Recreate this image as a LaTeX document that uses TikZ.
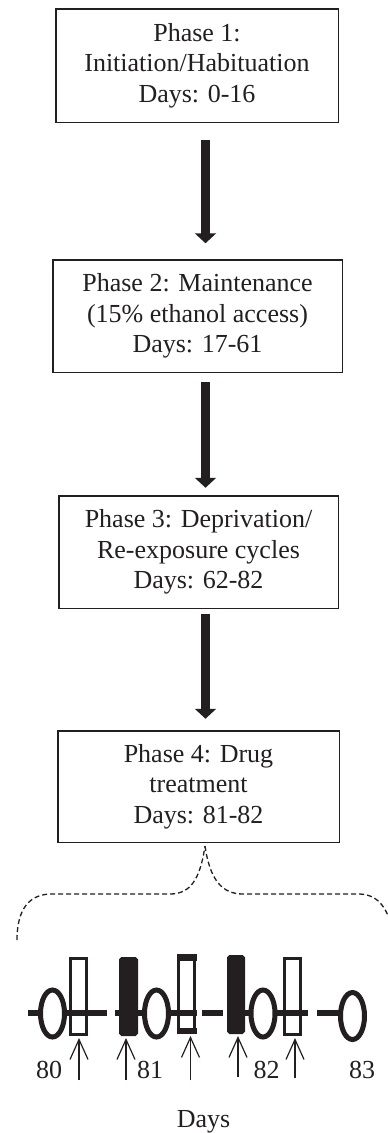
\documentclass[tikz,border=0pt]{standalone}
\usepackage{fontspec}
\setmainfont{Liberation Serif}
\usetikzlibrary{arrows.meta,shapes.geometric}
\definecolor{ink}{HTML}{231F20}
\begin{document}
\begin{tikzpicture}[x=1pt,y=-1pt,
  phasebox/.style={draw=ink, line width=1.5pt, fill=white, align=center,
    inner sep=0pt, outer sep=0pt, text=ink, font=\fontsize{26}{30.5}\selectfont},
  bigarrow/.style={draw=ink, line width=9pt, -{Triangle[width=21pt,length=10pt]}},
  bracedash/.style={draw=ink, line width=1.3pt, dash pattern=on 5pt off 3pt},
  tline/.style={draw=ink, line width=6pt},
  ell/.style={ellipse, draw=ink, line width=5pt, fill=white, inner sep=0pt,
    outer sep=0pt, minimum width=24pt, minimum height=47pt},
  openrect/.style={rectangle, draw=ink, line width=3pt, inner sep=0pt, outer sep=0pt,
    minimum width=16pt, minimum height=76pt},
  fullrect/.style={openrect, fill=ink, rounded corners=1.5pt},
  uparrow/.style={draw=ink, line width=1.2pt, -{Straight Barb[length=20pt,width=18pt]}, shorten >=3.5pt},
  lab/.style={anchor=base, inner sep=0pt, text=ink, font=\fontsize{26}{30}\selectfont}
]
\useasboundingbox (0,0) rectangle (388,1133);

% phase boxes
\node[phasebox, minimum width=282.5pt, minimum height=113.5pt] (b1) at (197,65.5)
  {Phase 1:\\Initiation/Habituation\\Days: 0-16};
\node[phasebox, minimum width=289.5pt, minimum height=112.5pt] (b2) at (197.5,316)
  {Phase 2: Maintenance\\(15\% ethanol access)\\Days: 17-61};
\node[phasebox, minimum width=279.5pt, minimum height=112.5pt] (b3) at (198.5,552)
  {Phase 3: Deprivation/\\Re-exposure cycles\\Days: 62-82};
\node[phasebox, minimum width=281.5pt, minimum height=111.5pt] (b4) at (198.5,786.5)
  {Phase 4: Drug\\treatment\\Days: 81-82};

% thick arrows between phases
\coordinate (ax) at (205.5,0);
\draw[bigarrow, shorten <=17.5pt, shorten >=16.5pt] (b1.south -| ax) -- (b2.north -| ax);
\draw[bigarrow, shorten <=10pt, shorten >=8pt] (b2.south -| ax) -- (b3.north -| ax);
\draw[bigarrow, shorten <=6pt, shorten >=12pt] (b3.south -| ax) -- (b4.north -| ax);

% dashed brace
\coordinate (bp) at (205,846);
\draw[bracedash] (17,940) .. controls (17,915) and (25,895) .. (50,894)
  -- (170,894) .. controls (190,894) and (200,880) .. (bp);
\draw[bracedash] (bp) .. controls (210,880) and (222,894) .. (243,894)
  -- (360,894) .. controls (380,895) and (388,910) .. (394,934);

% timeline axis
\draw[tline] (28,1013) -- (107,1013);
\draw[tline] (115,1013) -- (197,1013);
\draw[tline] (202,1013) -- (223,1013);
\draw[tline] (227,1013) -- (308,1013);
\draw[tline] (317,1013) -- (340,1013);

% sessions
\node[ell] (e1) at (52.5,1013.5) {};
\node[ell] (e2) at (156.5,1013.5) {};
\node[ell] (e3) at (263,1013.5) {};
\node[ell] (e4) at (352.5,1016) {};
\node[openrect] (r1) at (78.5,996.5) {};
\node[fullrect] (r2) at (128.5,996.5) {};
\node[openrect] (r3) at (186.5,994.5) {};
\fill[ink] (176.5,954) rectangle (196.5,961);
\fill[ink] (176.5,1028) rectangle (196.5,1034);
\node[fullrect, minimum width=15pt] (r4) at (236,994.5) {};
\node[openrect] (r5) at (292,996.5) {};

% treatment arrows
\coordinate (u1) at (79,1080);
\coordinate (u2) at (126,1080);
\coordinate (u3) at (190.5,1080);
\coordinate (u4) at (238,1077);
\coordinate (u5) at (295,1078);
\draw[uparrow] (u1) -- (r1.south -| u1);
\draw[uparrow] (u2) -- (r2.south -| u2);
\draw[uparrow] (u3) -- (r3.south -| u3);
\draw[uparrow] (u4) -- (r4.south -| u4);
\draw[uparrow] (u5) -- (r5.south -| u5);

% day labels
\node[lab] (d80) at (49,1078) {80};
\node[lab] (d81) at (150,1078) {81};
\node[lab] (d82) at (266.5,1078) {82};
\node[lab] (d83) at (362,1078) {83};
\node[lab] (days) at (203.5,1127) {Days};
\end{tikzpicture}
\end{document}
